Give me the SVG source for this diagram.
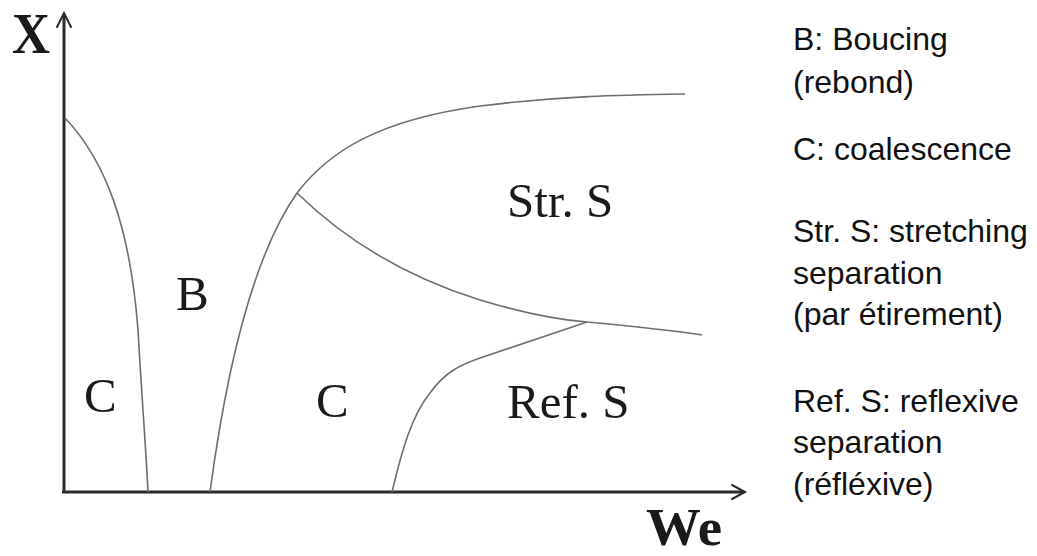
<svg xmlns="http://www.w3.org/2000/svg" width="1037" height="556" viewBox="0 0 1037 556">
<style>
.axis{stroke:#2a2a2a;stroke-width:3;fill:none}
.arrow{stroke:#2a2a2a;stroke-width:2;fill:none;stroke-linecap:round}
.curve{stroke:#6e6e6e;stroke-width:1.6;fill:none}
.region{font-family:"Liberation Serif","Times New Roman",serif;font-size:49px;fill:#1a1a1a}
.axlabel{font-family:"Liberation Serif","Times New Roman",serif;font-weight:bold;font-size:56px;fill:#1a1a1a}
.legend{font-family:"Liberation Sans",Arial,sans-serif;font-size:32px;fill:#111}
</style>
<rect width="1037" height="556" fill="#fff"/>
<g id="axes">
<line class="axis" x1="64" y1="492" x2="64" y2="14"/>
<polyline class="arrow" points="57,27 64,13 71,27"/>
<line class="axis" x1="62" y1="492" x2="744" y2="492"/>
<polyline class="arrow" points="732,485 745,492 732,499"/>
<text class="axlabel" x="12" y="53" textLength="38" lengthAdjust="spacingAndGlyphs">X</text>
<text class="axlabel" x="646" y="545" style="font-size:52px" textLength="76" lengthAdjust="spacingAndGlyphs">We</text>
</g>
<g id="connectors">
<path class="curve" d="M65,118 C105,160 130,225 138,330 C142,400 146,450 148,492"/>
<path class="curve" d="M210,492 C225,380 250,260 297,193 C330,150 380,120 480,106 C560,96 620,95 685,94"/>
<path class="curve" d="M297,193 C340,235 400,275 480,300 C530,315 560,320 587,322 C630,326 670,330 702,335"/>
<path class="curve" d="M392,492 C402,450 412,415 430,393 C445,372 460,365 480,358 L587,322"/>
</g>
<g id="region-C-left"><text class="region" x="84" y="412">C</text></g>
<g id="region-B"><text class="region" x="176" y="310">B</text></g>
<g id="region-C-mid"><text class="region" x="316" y="417">C</text></g>
<g id="region-StrS"><text class="region" x="507" y="217">Str. S</text></g>
<g id="region-RefS"><text class="region" x="507" y="418">Ref. S</text></g>
<g id="legend">
<text class="legend" x="793" y="50">B: Boucing</text>
<text class="legend" x="793" y="93">(rebond)</text>
<text class="legend" x="793" y="160">C: coalescence</text>
<text class="legend" x="793" y="242">Str. S: stretching</text>
<text class="legend" x="793" y="284">separation</text>
<text class="legend" x="793" y="325">(par étirement)</text>
<text class="legend" x="793" y="412">Ref. S: reflexive</text>
<text class="legend" x="793" y="453">separation</text>
<text class="legend" x="793" y="495">(réfléxive)</text>
</g>
</svg>
